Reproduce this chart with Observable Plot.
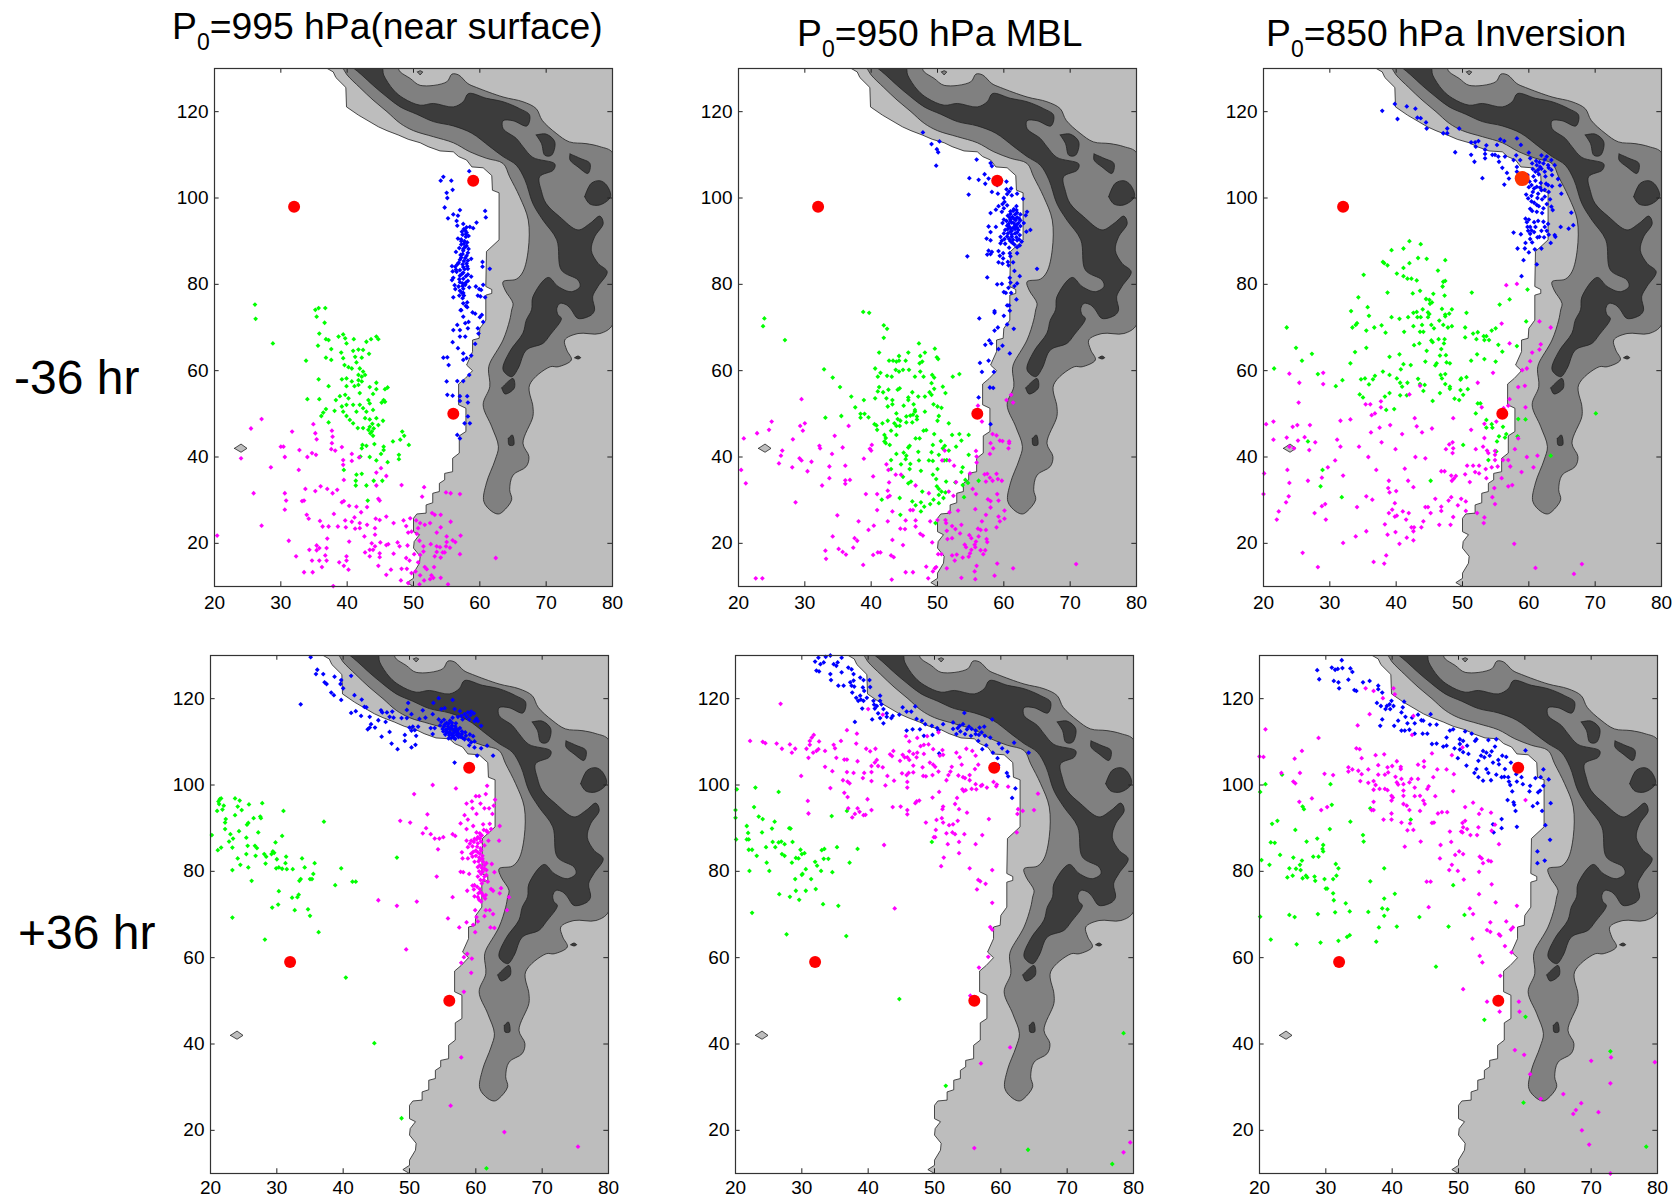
<!DOCTYPE html>
<html><head><meta charset="utf-8">
<script src="https://cdn.jsdelivr.net/npm/d3@7"></script>
<script src="https://cdn.jsdelivr.net/npm/@observablehq/plot@0.6"></script>
<style>
html,body{margin:0;padding:0;background:#fff}
#root{position:relative;width:1673px;height:1199px;overflow:hidden;font-family:"Liberation Sans",Arial,sans-serif;color:#000}
.t{position:absolute;white-space:nowrap;line-height:1}
.s{position:absolute}
.s svg{display:block}
sub{font-size:23px;line-height:0;vertical-align:baseline;position:relative;top:11px}
</style></head><body><div id="root"></div>
<script>
// ---- tick labels
const xTicks=[20,30,40,50,60,70,80];
const yTicks=[20,40,60,80,100,120];
// ---- terrain contours (lon,lat pairs, same on each panel)
const coast=[37,130,37.9,129.2,38.3,127.9,39.8,125.6,39.9,121.1,41.7,119.2,44.7,116.5,46,115.6,47.7,114.6,49.2,113.6,51,112.8,52.2,111.9,54,110.9,56,110.7,56.8,109.6,58,108.8,58.8,107.2,60.5,107,61.8,105.2,61.9,101.8,62.9,101.2,62.9,90.3,61,87.6,60.9,79.5,61.8,78.8,61.8,77.9,60.9,77.5,60.9,71.7,60,69.8,59.9,67.5,58.9,67.1,58.9,64.4,58,61.3,58.9,60,57.8,58.2,56.8,56.9,56.8,52.1,57.9,51.3,57.9,45.9,56.9,44.9,56.9,40.9,55.9,39.7,55.9,36.6,54.7,36.2,54.7,34.7,53.9,33.9,53.9,32,52.9,31.6,52.9,29.4,51.9,28.9,51.9,27,50.5,26.8,50,25.8,50,22.7,50.9,22,50.1,20.4,50,18.9,51,17,50.9,15.4,50,13.1,50,11.9,49,10.9,50,10,80,10,80,130,37,130];
const midBand=[39.4,130,40,128.5,41.9,125.6,43.9,122.7,46,120,48,117.3,50,115.6,53,114.2,56,112.8,58.5,110.7,61,109.2,63.5,108,64.5,104.9,66,100.3,67.3,94.9,67.3,88,66.5,82.9,65.5,81.2,63.5,80.6,63.8,78.7,65,75.6,64.8,74.05,64.5,71.7,63.5,67.1,61.5,61.7,61.3,60.2,61.5,56.3,60.5,52.1,61.8,47,62.8,42.4,62.3,39.3,61,34,60.6,29.7,61.8,27.4,62.8,26.8,63.5,27.4,64.8,30.1,64.5,32.4,65,35.8,67,37.8,67.4,40.1,66.5,43.2,68,49.4,68,51.7,67.5,56.7,70.6,60.9,71.8,60.9,73.8,62.5,73.1,64.8,72.8,67.1,74.8,68.6,78.1,68.6,80,70.6,80.3,80,80.3,100,80,110.5,78.1,111.9,76,112.6,73.5,113,71.5,115,69.4,118,68.5,120.7,66.5,122.3,63.5,123.4,59.5,125.6,58.2,126.5,56.8,128.5,55.8,128.7,55,126.9,51,126.1,49.5,127.7,48,129.2,47.5,130.3,43,131,39.4,130];
const darkBand=[40.8,130.3,45.2,130.3,45.5,128.5,47,125,48.5,123.1,51,121.5,53,121.9,56,121.1,57.5,122.3,58.3,124.2,61,123.1,63.5,122.3,66,120.7,67.5,119.2,67.1,116.7,65,117.9,63.5,117.9,63.5,116.1,65.5,113.8,66.5,111.9,68,109.4,71.3,107.9,71.1,106.5,69,104.9,69.3,101.5,70,98.7,72,95.7,74.8,92.6,76.6,94.1,78.1,95.8,78.6,94.1,77.3,91,76.8,87.9,77.8,84.9,79.2,82.9,77.8,79.5,77,77.1,77.3,74.1,76.8,72.9,74.8,72.1,73.8,74.1,73.1,75.2,72.1,75.6,71.6,74.4,71.8,72.9,72.3,72.1,70.6,68.3,69.5,66.3,67,64.8,65.8,60.6,64.8,58.6,63.5,60.2,64.5,64.4,66.5,68.7,67,71.7,67.8,74.1,68,77.1,70.3,81.6,71.8,79.5,73.8,78.3,75.1,79.5,74.8,81,72.3,83.3,71.6,90.3,69.5,94.9,68,98.7,66.8,104.2,65.5,107.6,63.5,109.6,61.5,111.9,58.8,115,56,116.7,53,117.7,50.5,119.4,48,121.1,46,123.4,43.9,126.1,42.2,128.5,40.8,130.3];
const darkIsles=[
 [68.5,114.6,70,114.8,71.3,113,70.8,109.9,69.8,109.9,69.3,112.6,68.5,114.6],
 [73.6,110.2,75.1,109.2,76.6,108,76.3,105.7,74.8,107.2,73.6,108.8,73.6,110.2],
 [75.8,100.3,76.8,103.4,78.1,104,79.1,103,79.7,100.3,78.1,98.4,76.6,98.6,75.8,100.3],
 [63.3,56,65,58.2,65.2,56,63.8,54.6,63.3,56],
 [64.3,44.3,64.9,45.1,65.1,42.8,64.4,42.8,64.3,44.3],
 [74.3,63,74.8,63.4,75.2,63,74.8,62.7,74.3,63]];
const midIsle=[50.6,129.2,51,129.5,51.4,129.2,51,128.5,50.6,129.2];
const lightIsle=[23,42,24,43,24.9,42,24,41.1,23,42];
// ---- red sites
const sitesMinus=[32,98,59,104,56,50];
const sitesMinus850=[32,98,56,50];
const bigSite850=[59,104.5];
const sitesPlus=[32,59,59,104,56,50];
// ---- panel 1: -36 hr, 995 hPa
const blue1=[58.4,106.2,54.5,104.9,54.1,104,55.7,104,55,101.2,55.1,100,55.9,101.9,54.7,97.8,57,97.2,60.8,97,60.9,95.5,56,96.2,55.2,95.3,56.7,95.9,59.5,94.3,56.5,94.7,57.5,94,56.6,93.6,58.5,93.3,59,93,57.8,92.5,58,92,57.4,91.5,57.9,91,56.7,90.6,57.2,90.4,57.7,90,58.1,89.7,57.2,89.2,57.8,88.7,58.3,88.2,57.5,87.8,56.4,87.5,57.4,87,58,86.6,57.2,86.2,58.7,85.9,57.6,85.4,56.8,85,58,84.8,55.8,84.2,56.3,84.1,57.5,84,58.2,83.6,57,83.3,55.9,83,56.5,82.9,57.5,82.7,58.2,82.3,60.4,85.2,60.4,84.1,61.5,83.6,57,82,58.7,81.8,56,81.5,55.8,81,57.5,81.3,58.2,80.8,57,80.5,56.2,79.8,57.8,79.9,58.4,79.3,59.4,79.5,59.9,78.9,60.5,79.9,60.2,78.7,56.3,78.9,57.5,79,57.3,78,57.6,77.4,56,77,57.4,76.8,59.7,77.4,60.1,77.2,60.8,77,57.5,75.6,57.9,75,57.2,74,58.1,74.7,58.9,73.5,59.3,73.2,60.3,72.9,60.5,71.3,60,72.4,57.1,74,57.5,72.5,56.6,70.6,56,69.4,57.8,71,58.3,71.3,57,69.4,58.2,69.8,59.8,68.6,59.7,69.8,57,67.9,57.8,67.9,55.9,66.6,59.3,66.2,56.7,65.2,57.5,64,55.1,63.1,54.5,63,55.3,61.3,57.5,62.5,58.7,63.5,58,62.9,58.4,59,55,57.5,56.6,57.6,57.5,57.6,55.1,54.4,55.9,54.2,57,54.1,58.1,54.1,57,53,58.2,52.6,58.2,49.4,57.7,47.8,58.5,47.8,56.6,45.1,57,44.3];
const blue1Dense=[57.6,92.8,58,93.2,57.3,92.2,57.9,91.6,58.3,91.2,57.2,90,57.6,89.4,58,88.9,56.9,88.4,57.5,88.2,58.2,87.3,57.1,86.8,57.8,86.1,58.2,85.5,57,85.7,57.4,84.6,58.1,84.2,56.6,84.6,57.7,83.5,56.4,83.4,57.3,82.4,57.9,81.9,56.9,81.2,57.4,80.2,57.9,80.4,56.8,79.5,57.4,79.6,57,78.5,57.5,78,56.9,77.4,58.1,75.8];
const green1=[26.1,75.3,26.2,72,35.2,74.1,35.7,74.5,36.7,74.5,35.4,72.5,28.8,66.3,36.6,71.1,35.8,68.6,38.7,67.9,39.4,68.4,39.7,67.5,39.9,66.3,36.8,67.3,37.2,67.1,41,67.3,42.9,66.7,43.6,67.3,44.4,67.9,44.7,67.3,35.6,65.8,37.6,65,40.9,64.6,41.7,64.9,42.4,64.8,39.1,64.2,43.3,63.9,36.8,63,37.6,62.5,33.8,62.3,39.4,62.9,41.2,63.2,42.2,63,41.4,61.9,39.6,61.3,40.2,60.8,40.7,60.5,41.9,60.5,42.4,59.8,41.7,59,42.2,58.6,42.7,59,39.2,58,39.9,58.2,35.7,58,41.7,57.8,42.2,57.5,40.7,57.5,44.4,57.2,37.2,56.4,39.9,56.4,41.1,56.4,41.7,56.7,43.4,56.2,45.7,55.7,46.1,56.1,44.4,55.7,34,53.4,35.8,53.4,38.3,53.2,38.9,54.1,39.7,54.4,40.2,53.6,41.9,54.8,43.2,53.2,43.9,54.6,45.5,53.2,45.2,52.6,45.7,52.8,39.2,51.7,39.9,52.1,40.9,52.1,41.9,52.1,43.4,52.4,39.4,50.5,42.4,51.3,36.8,51.1,38.1,50.7,36.4,50.3,36.1,49.5,39.9,49.5,41.4,50.5,42.9,50.5,43.9,50.9,40.4,48.6,40.9,47.8,42.7,49,43.4,48.7,44.4,49,45.4,48.4,37.2,48,41.6,46.7,42.4,46.7,43.4,47,44.7,47.4,43.7,45.9,43.9,44.9,43.2,46.3,43.5,45.5,44,46.6,43.8,47.7,48.3,45.9,48.6,44.9,48,44,46.9,43.6,49.3,42.8,42.3,42.8,42.9,42.6,44.1,43,42.2,42,45.5,42.4,45.5,41.6,45.1,40.7,47.8,40.5,47.8,39.5,42,40.1,43.4,40,44.4,39.2,46.1,38.8,39.5,37,41.4,35.9,42.2,36.1,44,34.5,45.3,34.5,41.3,34.5,41.3,33.4,42.9,33.4,43.1,29.9];
const magenta1=[20.4,21.8,27.1,48.8,25.5,46.6,31.7,45.9,34.9,47.6,35.2,45.5,35.4,44.1,37.7,46.1,37.8,44.7,37.7,43.2,30,42.4,30.4,42.4,32.8,41.6,24,39.7,30.6,40,34,40,34.7,40.9,35.3,40.5,37.6,41.8,38.2,41.5,39.2,42.3,40.7,40.7,39.4,39.3,39.4,38.2,40.7,39.1,41.8,39.9,28.5,37.6,32.7,37,44.4,36.4,45.1,37.4,45.9,35.6,39.5,34.7,44.4,33.4,48.2,33.5,51.6,33,25.9,31.6,30.6,31.6,33.7,32.6,35.2,32.1,36,33.2,37,32.6,37.8,31.6,38.5,32.4,51.3,30.8,54.9,31.8,55.6,31.6,57,31.4,30.8,29.9,33.2,29.8,33.5,29.9,39.2,29.5,39.5,29.8,44.7,30.3,44.9,29.9,30.6,27.8,40.3,28.7,41.4,28.5,43,28.4,42.1,27.2,38,26.8,33.9,26.6,34.2,25.7,35.9,25.2,39.7,25.3,40.7,25,41.1,26,41.9,24.7,44.3,25.7,44.9,25.4,45.9,26.2,47,24.7,48.5,25.3,49.5,25.8,50.4,25.3,52.8,27,53.2,26.6,54.1,26.6,52.5,24.7,55.6,25,51,24.7,51.7,24.3,27.1,24.1,36.3,23.9,37.2,23.9,38.6,23.9,39.8,23.7,41.9,23.5,41.2,23.4,43,24.3,44.2,23.5,48.9,24,50.7,23.5,54.1,23.7,53.5,22.5,49.2,22.5,49.7,22.7,50.5,22.2,37,21.1,42.6,21.6,44.2,22,55,21.6,57.1,21.8,31.2,20.6,40.3,20.4,43.7,20,45,20.2,46.2,19.8,45.9,19.6,47.6,20.2,47.9,19.3,49.1,19.5,50.9,20.6,55,20.3,55.9,20.7,56.3,20.3,52.6,19.8,53.5,19.3,54,19.1,51.5,19.3,55.5,19,54.9,19.3,35.4,19.5,35.8,18.9,34.3,18.5,35.4,18.4,36.9,18.9,44.2,19.3,43.9,18.5,43.4,18.5,42.7,17.9,44.9,17.7,47,17.6,53.5,18,54.4,17.9,54.7,17.9,51.5,18.1,57,17.5,50.1,17.5,51,17.3,43.4,17,44.9,16.8,32.3,17,36.7,17.2,53.2,17,54.1,16.7,48.9,16.6,49.4,16,39.9,17,39.9,16,34.7,16,35.8,16,36.9,16,38.8,15.6,62.4,16.6,50.7,15.6,51.7,14.5,52,14,39.5,14.8,36.2,14.5,44.7,14.8,48.2,14.1,49,14.1,50.3,13.5,49.7,13.1,40.2,13.9,46.6,13.9,53.1,14.5,33.5,13.3,34.8,13.3,45.9,12.7,51,12.6,48.1,11.4,52.7,12.6,53,12,52.5,11.7,54.1,12,51.6,11.4,49.2,10.8,55.2,10.5,37.9,10.1,50.9,10.5];
// ---- panel 2: -36 hr, 950 hPa
const blue2=[47.8,115.2,49.1,112.5,50.3,113.1,49.9,111.3,50.1,110.6,49.8,107.5,55.9,108.9,58,108.1,58.2,107.4,57.1,105.5,54.8,104.6,56.2,104.2,57.7,104.5,57.2,103.3,59.6,104.1,60.4,103.8,59,103,54.7,100.8,58.2,101.4,59.1,101,60.4,102,61.1,102.2,60.8,101.5,62,101,60.5,100.9,61.2,100.6,60,100,62.9,99.8,60.1,99.1,59.8,98.6,59.2,98.1,60.5,98.3,61.9,98.1,61.5,97.4,60,97.6,58.8,97.3,59.7,96.8,58,96.5,61,96.9,62,96.6,63.5,96.8,63.3,96,62.5,96.2,60.6,95.9,61.3,95.6,62,95.5,61,95,60,95,61.8,94.9,62.5,94.8,59.8,94.2,61.2,94.3,62.2,94.2,63,94.2,61.7,93.6,60.5,93.6,61,93,62,93.1,58.8,93.3,57.7,93.4,60.2,92.6,61.2,92.4,62.2,92.6,64,92.6,63.4,92.2,58,92.1,60.6,91.8,61.7,91.8,62.4,91.4,59.5,91,61.2,91,57.4,90.6,58,90.2,59.7,90.1,61,90,62,90.2,62.7,89.9,59.5,89.5,60.2,89.4,61.6,89.2,62.4,89,60.8,88.5,57.7,87.8,58.2,87.5,59.2,87.7,59.9,87.2,60.9,87.2,62,87.2,58,87,54.5,86.5,57.5,86.9,59.4,86.6,59.9,86,61,86.5,59.2,85.1,59.8,84.8,60.6,85.2,60.7,84.4,61.4,85.1,61.6,83.1,65,83.6,62.4,81.9,60.9,81.5,57.5,81.6,61,80.4,62,80.2,61.6,79.6,59,80,59.7,80.1,60.7,79.2,60.3,78,60,78.2,61.1,78,61.9,76.5,60.8,75.1,60.5,75.1,60.9,73.9,58.6,73.8,56.3,72.1,58.6,73.4,60,72.7,60.5,70.7,61.5,69.7,59.1,70,58.6,69.3,57.2,66,57.8,67,58.1,66.3,59.8,65.8,59.2,65,60.9,64,57.7,62.3,56.4,61.8,56.7,59.7,58.5,59.7,57.9,56.1,58.4,56,56.2,53.8,58,47.6];
const blue2Dense=[61.4,97,61.9,97.2,61,96.3,61.7,96.2,60.9,95.4,61.6,95.1,62.3,95.3,60.4,94.7,61,94.6,61.5,94.2,60.7,94,61.9,93.8,62.5,93.5,60.8,93.4,61.4,93.1,61.7,92.8,60.6,92.8,61,92.2,62,92,60,91.8,60.5,91.1,61.2,91.5,61.9,90.9,60.8,90.5,61.4,90.3,62.3,90.4,60.1,90.5,61.3,89.6,62,88.6];
const green2=[23.9,72.1,38.8,73.6,39.7,73.4,23.7,70.3,27,67.1,41.9,70.5,42.4,69.7,41.9,67.6,47.2,66.3,49.6,65.1,41.2,64.2,45.6,64.2,47.4,63.4,48.1,64.2,44.2,63.4,42.7,62.3,43.3,62.3,43.8,62.1,44.2,62.3,45.2,62.3,49.9,63.1,50.1,62.7,47.3,61.7,47.7,62.1,32.9,60.3,40.6,60.5,43.7,60.2,44.2,59.8,44.8,60.2,45.7,60.2,41.4,59.5,47.4,59.8,53.3,59.2,49.2,59,41,58.6,42.4,58.8,43.1,58.6,46.6,58.6,47.9,58.6,49.5,58.4,52.3,58.6,34.2,58.4,35.3,56.2,49.1,57.1,50.8,56.3,41.2,56.2,44.3,55.9,49.5,55.8,41,55.2,41.8,55,42.6,55.6,44,55.6,46.2,55,48.8,55,51.2,54.8,37,54,45.6,53.8,47.1,54,48.1,54,49.1,54.4,38.9,53.2,40.6,53.6,42.3,53.6,43.2,53.2,45.6,53.2,37.6,51.5,42.5,51.7,43.2,52.2,44.9,51.9,46.4,52.2,49.4,52.2,50,51.7,50.6,51.4,43.8,50.1,48.1,50.5,46.6,50.5,33.1,49.1,35.5,49.5,38.4,50,39,50,39.6,49.2,38.4,49.1,45.3,49.4,45.9,49.6,46.3,49.8,46.9,49.4,46.6,50.9,50.2,49.5,44,48.8,46.9,48.7,44.4,48.4,40.5,47.6,40.8,47.3,41.7,47.8,42.5,48.4,43.5,47.8,43.8,47.2,44.3,47.2,45.3,48,46.2,48,50,48.4,51.7,47.8,40.9,46.3,43,46.1,47.9,46.1,48.3,46.2,43.8,45.1,42,45.1,42.2,44.4,49.5,45.3,52.2,45.1,53.3,45.3,54.7,45.1,46.7,44.3,47.3,44.3,53.6,43.8,50.5,43.7,42,43.6,42.2,43.2,42.8,42.8,45.8,42.6,49.3,42.8,51.1,42.6,52.8,42.4,45.6,42.2,47.1,41.2,50.8,42,51.7,41.5,43.8,40.7,44.9,41,49.1,41.1,50.2,40.5,54.7,40.5,45.3,40.3,43,39.3,45.2,39.5,47.2,39.2,48.7,39.2,49.3,39.1,51,39.2,51.4,39.3,44.5,38.3,45.9,38.4,45.8,37.2,53.8,37.6,43,37.2,47.5,36.8,50,37.2,53.6,36.5,49.3,35.9,44.8,35.4,49.8,34.9,51.3,34.3,45.6,33.9,46,34.3,52.7,34.1,54.2,34.7,56.2,34.5,53.8,33.5,54.6,34,49.9,33.2,50.2,32.6,47.7,32,50.6,32,51.2,31.8,50.2,31.2,50.9,30.5,44.3,30.5,41.6,30.1,49.4,30.1,54,30.7,46.2,29.7,47.5,29.5,50.2,29.3,46.7,28.8,48,28.5,48.9,29.1,47.5,27.4,44.4,26.6,49.7,24.7];
const magenta2=[29.5,53.4,25,48.2,24.6,46.3,30,47.8,29.3,47.2,29.7,46.1,36.6,47.2,22.8,45.5,20.8,44.3,28.2,44.1,34.5,44.9,32.2,42.6,32.3,42,35.7,42.2,40.1,42.8,39.8,41.9,40,41.5,26.6,41.5,34.1,40.7,26.4,40.3,29.2,39.7,29.5,39.2,38.9,39.6,26.1,38.5,31,38.9,33.7,37.8,28.1,37.6,36.1,38,42.3,38.3,20.4,37,30.4,36.7,42.6,37,33.7,35.1,40.3,35.5,43.7,35.9,44.5,35.9,21.1,33.9,36.8,34.7,36.1,34.6,36.1,33.8,32.6,33.4,42.7,34.1,46.7,33.4,39.2,31.4,40.9,31.4,42.5,32.2,42.5,30.7,42.8,31,48.7,31.6,51.7,32,28.6,29.5,40.9,27.7,43.2,27.4,45.9,27.7,46.3,27.7,34.9,26.5,38.1,25.1,42.5,25.1,45.2,25.3,46.7,25.3,48.9,25.1,44.4,23.4,45.1,23.3,46.7,23.9,39.6,23.1,40.4,24.1,34.2,21.6,37.5,21.2,37.9,20.6,43.2,20.8,47.4,22.2,47.8,21.8,49.2,20.2,44.8,19.6,35.1,18.7,37.3,19,35.7,18,33.1,18.3,36.2,17.4,40.3,17.3,41,17.9,41.4,17.9,43,17.2,43.4,16.8,33.2,16.4,38.8,15,22.6,11.9,23.6,11.9,48.3,14.6,49.8,14.5,49.3,13.5,45.2,13.3,46.3,13.3,48.6,11.9,43.1,11.6,70.9,15.2,61.4,14.2,59,15.3,58.6,12.5,53.6,12,55.6,13.5,55.9,14.8,55.7,11.7,60.4,53.2,61.1,54.4,61.4,52.6,56.1,51.9,56.7,48.2,58.3,45.3,58.9,45,58,43.2,59.4,43.8,59.8,43.7,60.8,43.6,60.8,43.2,60.7,42,58.4,42,57.9,40.7,55.8,41.4,55.9,40.1,51.1,41.5,50.7,39.2,51.8,39.2,52.5,38,55.9,38.7,54.9,36.2,57.1,36,57.5,36.1,57.9,35.2,57.3,34.3,58.3,34.5,58.9,36.1,59.1,34.9,59.7,34.5,55.3,32.6,55.8,31.4,59,31.4,52.4,31,52.8,34.2,57.6,30.2,58,29.8,59.2,29.9,58,28.3,60.1,27.6,53.1,27.6,55.7,27.9,51.8,27.2,57.3,26.6,59.2,26.2,60.1,25.7,59.4,25.1,56.7,25.1,51.2,25.4,51.3,24.7,50,25.4,52.2,24,53.6,24.3,58.9,23.7,52.7,23.3,51.4,22.9,56.1,23.4,56.5,23.1,57.3,23.1,53.4,22.3,54.8,21.9,56.2,21.6,51.5,21,52.2,21.2,55.1,21.2,57.4,21,57.5,20.3,55.8,20.4,54.1,19.7,54.3,19.1,55.6,19.7,55.7,19.1,55.1,18.5,56.5,18.4,57.2,18.4,54.9,17.7,56.9,17.5,50.1,17.5,50.6,17.5,52.2,17.2,52.9,17.4,52.6,16,53.8,16.7,54.7,16.9,51.4,14.2,49.6,14.2];
// ---- panel 3: -36 hr, 850 hPa
const blue3=[37.9,120.2,39.8,121.8,40.2,118.3,41.6,121.2,42.9,120.7,43.2,118.6,43.7,118.5,44.5,117.5,44.6,116.1,47.7,116.1,49.5,116.1,47.1,115,47.7,115,48.9,110.6,51.3,112.9,51.9,112.9,52.4,113.2,52,111.9,51.3,110,51.8,108.4,53,104.6,53.6,112.2,53.4,111.2,53.4,110.2,53.4,109.2,54.5,110,54.9,110,55.4,109.6,55.2,112.3,55.7,113.6,56.3,113.2,58.2,113.8,58.8,112.3,55.5,108.4,56,107,56.7,105.8,57,104.5,56.3,103.1,56.4,109.6,57.7,108.8,58.1,109.9,58.7,108.8,60,110.5,60.2,109.2,61.9,109.9,62.7,109.6,63.4,108.8,63.9,107.6,62.2,108,61.7,107.2,61.2,107.6,61,106.1,61.4,106.5,62.4,106.1,63.4,106.5,64.4,104.4,64.7,102.9,64.9,101,58.2,106.1,58.2,107.2,60.4,103,61.2,102.6,61.9,101.8,62.9,103,60.6,101.4,61.4,101,62.4,100.3,63.2,99.7,59.9,99.9,60.4,99.2,61.2,98.4,62.2,97.6,63.4,98,63.6,97.2,60.2,97.5,66.4,96.6,66.7,93.7,64.8,93.3,66,92.9,63.9,91.4,64,91,63.3,89.6,59.7,94.4,60.2,93.3,61,93.3,59.8,93.3,60.4,92.5,62.9,94,57.7,92,58.8,91.6,60.2,91.7,60.2,90.5,61.3,90.9,61.9,92.4,62.3,90.9,60.5,89.7,59.5,89.6,58.3,88.3,59.4,88.3,60,87.4,60.9,88.1,61.9,88.3,59.2,85.6,61.2,84.6,58.9,81.9];
const blue3Dense=[60.5,108,61.1,108.6,61.6,108.3,62.4,108.9,62.9,107.6,63,107,61.9,106.8,60.6,106.7,59.8,105.3,60.7,105,61.5,105.5,62.5,105,63.5,105.3,60.1,103.8,61,104,61.8,103.5,62.6,103.3,63.5,102.7,60,102.5,60.8,102.2,61.7,102.4,62.4,101.9,63,101.4,59.6,100.8,60.4,100.5,61.3,100,62,99.7,62.7,98.6,60.8,98.9,61.5,98.1,60.5,97,61.2,96.8,62,96.5,59.5,95.2,60,95,60.8,94.4,61.4,94.7,62.2,94.5,59.9,92.4,60.8,92.1,61.6,91,62.7,92.4,63,91.5,62.4,93.3];
const green3=[42,90,43.7,89.3,41.1,88.3,39.3,87.9,43.3,86.1,44.6,85.9,47.4,85.6,38,85.2,38.2,84.9,38.7,84.4,42,84.9,41.1,83.8,40.1,82.5,41.1,81.9,41.7,81.3,42.3,81.3,43.1,80.9,46.3,83.2,47.1,80.6,47.4,80.8,47,79.5,35.1,82.2,38.7,78.1,42.5,77.9,43.6,78.5,45.6,77.8,47.3,77.4,51.4,78.1,59.8,78.8,34.3,77,44.5,76.6,45,76.4,45.4,75.8,45.1,75.5,55.6,75.3,57.1,76.5,35.7,74.7,33.2,73.8,46.9,74.3,48.4,74.2,50.6,73.4,44,74.2,42.6,73.4,43.1,73.6,44.8,73.5,45,73.1,47.4,73,48,73.2,35.9,72.7,39.3,72.4,40.5,72,41.8,72.4,43.2,72.4,43.7,72.4,44.8,72.4,47.4,72.6,59.6,71.4,23.5,70,33.9,70.6,34.1,71,33.4,70,35.5,69.3,36.7,70,37.8,70.5,38.4,68.8,41.2,69,42.6,70.3,43.9,70.6,43.6,69,44.1,69,45.3,70.6,45.7,69.8,46.5,71.6,47.1,70.6,47.8,70,48.4,70.3,50.4,70,51.6,68.6,52.3,68.9,50.4,67.7,52.1,67.3,53.3,67.1,53.6,68,54.4,69.3,55,69.8,53.2,68,54,67.1,24.9,65.3,27.3,63.9,35.5,65.3,33.8,64.3,42.7,65.9,43.5,66.3,45.3,67,45.5,66.6,46.4,67.3,47.3,67.3,47.2,66.3,46.8,65,44.6,64.6,40.5,63.8,46.6,63.5,47.5,63.6,52.2,63.8,55.4,66,56,64.4,58.2,65.7,25.8,62.3,21.6,60.5,33.1,61.7,39,63.2,41.1,61.5,42.2,61.3,44.4,62.1,46.1,61.7,45.9,61.2,47.6,61.9,48.1,61.7,51.3,62.3,53.3,62.7,55,62.1,40.7,60.3,28.2,59.2,38,59.8,39,59,40.1,58.2,36.8,58.8,36.5,58,35.3,58.2,34.7,58,31.9,57.8,46.7,59,47.4,59.2,46.9,58.2,43.3,58.1,43.6,56.9,44.3,56.7,40.6,57.2,40.9,56.3,41.7,57.2,35.9,56.8,30.9,56.4,47.4,56.9,48.1,56.3,48.1,55.8,49.7,57.9,49.8,58.2,50.6,58.5,49.7,55.5,50.8,55.7,34.5,54.5,35,53.8,38.3,54,39,54.8,40.6,54.3,41.6,54.3,44.1,55.3,46.6,54.8,48.8,53.5,49.5,53.2,50.1,54.4,45.5,53,38.5,50.9,39.7,51.1,52.3,52.4,52.7,52.4,52,50.1,53.6,48.6,54.4,47.6,53.6,46.8,54.5,46.8,56.1,47,55.5,44.8,56.6,45.3,56.4,44.5,58.4,48.8,59.5,48.7,58.3,44.8,55.2,43.6,50.1,42.8,26.7,43.6,55.1,41.3,53.9,39.3,63.3,40.3,70.1,50.1,28.9,37,28.6,33.2,31.8,30.7,45.2,34.5];
const magenta3=[56.6,79.8,58.2,80.1,55.9,70.9,61.6,71.4,63.3,70,57.1,66.3,61.8,66.1,61.6,64.9,60.5,64.2,60.2,62.2,59.7,60.5,59,60.1,54.6,59.5,23.9,59.3,29,59.5,25.4,57.2,29,56.9,52.3,57.2,43.6,56.5,58.4,56.2,59.4,56.5,42,54.5,25.3,52.6,37.7,52.9,35.4,52.2,36.1,52.2,37.7,51.5,52.9,51.5,57.1,53.4,56.9,51.9,59.5,51.5,36.8,50.1,36.3,49.7,31.6,48.4,33.1,48.7,42.8,49,48.6,49,21.5,48.2,20.4,47.6,25.1,47.4,24.4,47,27,47.4,39.1,47.4,43.1,47.1,45.4,46.6,37.5,46.8,36.2,45.7,43.9,45.7,40.9,45.3,51.3,46.3,53.3,47.7,55.1,48.2,56.2,51.3,21.5,44,23.5,44.5,25.2,43.8,26.2,44.6,27.8,43.4,31.1,44,37.8,43.4,53.3,44.4,58.4,44.3,23.9,42.4,24.6,42,31.6,42.4,34.4,42.4,26.9,41.6,39.9,41.8,48,42.9,48.5,43.4,48.6,42,47.5,41.8,52,41.8,53.1,42.4,53.7,41.5,53.9,40.9,54.9,41.4,54.9,40.5,48.5,40.9,57.9,41.8,42.9,40,44.4,39.7,35.8,40,30.8,39.2,29.7,37.6,54.9,39.3,56.1,39.3,56.9,39.3,59.7,40,61.3,40.3,41.3,37.3,50.7,38,51.6,38,52.5,38,54.4,37.6,55.3,37.8,57.2,37.8,60.7,37.6,20.1,36.2,23.6,37,37,37,46.8,36.7,47.3,36.7,51.9,36.5,52.5,36.2,53.5,37.2,58.9,36.5,28.8,35.2,32,35.7,48.3,35.7,48.7,35,49,35.6,48.4,34.5,50.4,36,53.6,35.1,55.9,35.1,26.7,34.5,23.9,34,38.9,34.5,41.8,34.5,51.1,34.2,42.6,33,38.8,32.8,56.9,33.2,57.5,33.5,54.8,32.8,40,32.1,39,31.8,20,31.4,23.8,30.9,35.5,30.9,36.4,30.1,45.9,30.3,48.3,30.7,47.9,29.9,49.8,30.3,50.5,29.7,54.5,30.7,23.4,29.5,28.8,28.6,29.3,29.1,34.1,28.4,39.8,29.3,44.4,28.4,44.8,28.4,46.8,28.5,46.8,27.5,49.3,28.8,54.9,29.1,22.3,27.4,27.7,27,39.4,27.8,38.9,27,39.8,26.2,40.1,26.4,41,27.4,41.9,27,45.2,27,50.5,27.5,52.2,27,48.6,26.1,22,25.5,29.4,25.5,41.5,25.5,53.3,26,53.2,24.7,44.1,25.1,38.3,24.4,46.5,24.3,48.2,24.3,42.3,23.7,42.7,23.7,43.8,23.7,35.5,22.8,39.9,22.6,42.6,22.8,38.7,22,33.9,21.6,41.6,21.3,42.6,20.7,32,20.1,40.5,19.9,57.8,19.9,25.9,17.8,36.6,15.7,38.2,15.3,38.5,17.2,28.2,14.5,61,14.3,68,15.2,66.8,12.9];
// ---- panel 4: +36 hr, 995 hPa
const blue4=[35.1,129.6,36.1,126.7,35.9,125.7,37,125.7,38.7,125.1,39.7,124.3,41.2,125.3,37.2,123.8,37.5,123.4,39.6,123.4,40,122.4,38.2,121.4,38.6,120.8,41.7,120.8,39.7,119.7,42.8,119.8,33.6,118.7,43.2,118.1,43.5,118,49.8,119,49.6,117.4,53.6,119,54.4,120.1,56.5,119.7,54.8,117.6,55.3,117.8,41.2,116.7,41.9,117.1,42.7,116,44,115.8,45.7,117.3,45.9,116.8,46.6,116.8,47.4,117,47,115.8,48.8,115.5,49.6,115.5,50.3,116.4,52,117.3,45.3,115,44.2,114.1,46.4,114.6,47.6,115.6,43.7,112.9,44,113.3,44.8,113.3,47,112.3,45.8,111.2,49.3,111.6,51,111.4,49.3,110.2,47.3,109.6,48.2,108.3,50.3,108.7,50.9,109.3,50,113.3,50.5,113.5,51.3,113.5,50.8,112.7,50.3,112.6,51.5,115.3,52.4,115.6,53.5,116.4,53.2,113.2,53.8,113.2,53.5,111.8,54.4,115.2,54.8,114.6,55.2,115.1,55.6,114.4,56.1,114.9,54.6,113.8,55.2,113.6,55.8,113.6,56.4,113.8,57,114.3,55,113,55.5,112.8,56,113,56.5,112.9,57,113.1,57.6,113.2,55.6,112.2,56.1,112.3,56.7,112.1,57.2,112.3,57.9,112.4,58.4,112.2,56,111.5,56.6,111.4,57.1,111.6,57.7,111.2,58.5,111.4,59.1,111.7,59.6,111.3,56.9,110.7,58.3,110.6,58.9,110.5,59.3,109.9,59.8,110.1,56.8,117.6,57.6,117.1,58.3,116.4,58.8,116.8,59.3,117,59,115.2,59.8,114.8,60.3,114.8,60.8,113.7,59.7,116.6,60.1,115.4,56.8,105.2,60.8,108.5,61.7,109.1,60.2,106.8,62.6,106.8,59,109.2,59.8,108.7];
const blue4Dense=[55.3,114,55.9,114.2,56.4,114.4,56.9,113.6,55.1,112.4,55.7,112.9,56.3,113.3,56.8,112.6,57.3,112.8,55.9,112,56.4,111.8,56.9,112.4,57.4,111.9,57.9,111.8,56.3,110.9,56.7,110.9,57.4,111.1,58,110.9,55.4,111.7,55.9,110.8,56.5,115.6,57.3,115.8,57.8,116,58,115.2,58.6,115.8,59.2,116.2];
const green4=[20.2,88.4,21.4,96.7,21.6,96.9,21.2,96.2,21.3,95.6,21,94,22,95.2,21.8,94.3,23.7,96.9,24.4,96.4,25.8,95.5,24.1,95,24.7,94.2,27.8,95.8,31,94,37.1,91.5,23.7,93,22.3,92.1,22.2,91.3,26.5,92.3,27.5,92.7,27.6,92.3,25.7,91.2,25.5,90.8,22.2,89.8,24.3,89.3,27.2,89,23,88.6,25.4,87.8,23.4,87.6,22.8,86.9,30.8,88.2,29.8,86.7,25.6,85.9,26.7,85.9,27,85.4,21.1,84.9,21.6,85.5,23.3,85.5,25.4,84,26.8,83.6,28.1,84,28.4,83.4,29.4,84.6,29.6,84.3,29.2,84,31.4,83.4,24.1,83,33.8,83,30,82.8,31.3,81.9,35.7,81.9,48.1,83.2,24.5,81.5,28.3,81.8,25.7,80.9,23.3,80.3,29.9,80.7,30.3,80.9,30.8,80.6,31.5,80.5,32.4,80.5,34.2,80.9,39.7,80.7,35.5,79.4,33.6,78.2,33.4,77.8,35,78.2,35.3,78.2,26.2,77.8,41.4,77.6,41.9,77.6,38.8,76.8,30.3,75.4,32.3,73.9,33.1,74,33.3,74.6,30.2,72.3,29.3,71.6,32.7,71,34.7,71.2,35,69.7,23.3,69.3,36.3,65.9,28.2,64.2,40.4,55.4,44.7,40.2,48.8,22.8,61.6,11.2];
const magenta4=[53.5,100,57,99.2,61.7,99.8,50.7,97.9,60,97.4,60.5,97.4,61.5,97.9,62.9,96.6,58.6,95.7,59.4,96.2,60.7,95.7,61.3,94.6,62,94.6,62.7,95.2,59.5,94.6,60.1,93.3,58.3,93,62.5,93.3,52.7,93.2,48.6,91.7,50.1,91.3,58.8,92,57.7,91.1,61.1,90.9,62.1,91,63.6,90.5,52.5,90,58.6,89.8,59.6,90.5,62.3,89.8,61.6,89.4,61.8,89,52,88.8,53.2,88.6,56.5,88.6,56.9,88.2,53.8,87.6,54.5,87.6,55.1,87.9,60.8,88.3,60.3,87.9,59.8,87.5,59.3,87.1,58.6,87.1,63.5,87.1,61.9,87.1,61.3,86,54.3,85.1,57.9,84.4,58.8,85.6,59.3,84.1,60.3,84.4,60.8,84.8,58.8,83,59.8,82.2,60.6,82.7,61.1,82.2,61.6,81.9,62.4,81.7,58,83,60.3,81,61.3,80.6,60.8,79.4,61.6,79.1,62.8,79.8,57.7,79.9,58.1,79.8,54.1,78.8,59,79.4,60.3,78.8,61.8,77.6,59.5,76.7,59.8,76.8,58.7,75.5,60.6,75.9,62.3,75.9,62.6,75.5,63.8,76.1,63.6,74.9,65,74,56.5,74,59.8,74.2,60.3,74,61.1,74.3,61.4,73.7,60.8,73,45.3,73.3,48.1,72,51.1,73,59.9,71,61.5,71,62.1,71,62.6,70.1,64.7,71,61.3,69.6,60.1,69.4,60.3,68.4,55.8,69.1,58.6,68.2,59.6,67.6,57.5,67,62.2,67,62.8,66.9,59.9,65.9,49.5,61.9,58.7,60.9,58.2,60.1,57.8,58.8,59.4,59.8,59.3,56.5,58.2,52.1,57.8,36.9,56.2,25.7,64.3,19.6,75.4,16.2];
const magenta4Dense=[60.1,89,60.6,88.8,61.2,89.6,60.9,88.3,60.1,87.4,60.6,87.6,59.7,86.8,60.3,86.5,59.1,86.4,60.8,86.9,59.5,85.8,60.2,85.7,60.7,85.3,60,84.8,59.6,84.5,60.6,84.1,61,83.6,60,83.6,60.5,83.2,59.5,83.4,60.4,82.3,61,82.9,61.3,81.4,60.6,81.4,60.9,80.8,61.6,80.3,60.5,80,61,79.9,61.3,78.8,60.7,78,61.2,78,60.9,77.2,60.2,76.4,59.7,75.8,60.7,75.2,60.4,74.9,60.9,74.9,61.5,74.5,60.5,73.4];
// ---- panel 5: +36 hr, 950 hPa
const blue5=[32.5,129.5,33.6,129.7,34.3,130,36,129.5,32,128.6,32.8,128,33.3,128.4,34.8,128,35.4,128.4,35.2,127.6,32.2,126.5,32.6,126.3,34.3,125.7,36,126.1,37,127.2,37.5,126.8,37.8,125.7,38.8,124.9,34.4,124.3,35.5,123,36.3,123,37.3,123.8,37.5,123,37.6,121.4,39.3,124.3,40.2,124.3,40.3,122.7,39.4,121.8,38.8,120.7,38.5,119.5,39.3,119.5,41.8,120.7,40.8,119.5,41.8,119.5,39.1,117.7,41.3,118.3,42,118.7,41,117.7,42.3,117.6,38,114.6,40.6,115.2,41.8,115.5,42.3,114.3,42.8,115.8,43.5,115.5,43.7,116,44.7,116.3,45.2,118,45.8,117,46.5,117,47.1,118.2,45.8,112.6,46.7,112.9,47.8,112.9,47.3,115.3,48.1,114.9,48.6,114.1,49.6,113.7,48.4,111.4,49.7,111.6,50.4,113.2,51.3,114.1,50.6,112.6,52.8,114.5,52.8,113,53.3,111.8,53.8,113.7,54.3,114.1,54.9,112.9,54.6,111.8,55.2,113.5,55.5,111.4,56.2,111.8,56.6,110.2,56.8,113.3,57.5,113.5,58.4,111,57.2,108.3,57.8,109.2,58.8,107.5,59.7,109.6,60.2,108.5,61,107.7,62,109.8,64.2,107.5,54.5,116.7,58.7,115.2,50.7,107.3,59.5,106.2,59.6,104.6,60.9,102.8,61.1,102,62.2,99.2,61.7,97,53.5,113.2,53.9,112.4,55.6,113,56.2,112.6,57.1,112.2,57.6,111.4,56.7,111.6,38.2,120.2,38.9,119.8,39.8,120.2,39.2,122.6,37.9,122.8,37.8,124.2,42.8,116.6,40.9,118.6,41.5,116.6];
const green5=[20.2,99,23,99.4,26.5,98.4,22.8,94.9,20,94.2,20,92.4,23.5,92.7,24.1,92.1,34.5,92.8,36.8,94,25.9,91.5,21.7,90.5,25.5,89.9,28.1,90,28.3,89.9,21.9,88.9,24,89,20.1,87.4,21.7,87.4,22,87.4,25.6,86.8,26.5,86.7,26.9,86.9,27.4,86.3,28.6,86.8,49.6,86.8,22,85,22.5,85,24.6,85.6,26,85.6,29.8,85,33,84.9,33.4,85.2,35.3,85.6,38.4,85.2,23.2,83.6,27,84,27.4,83.6,30,84,30.4,84.2,29.1,83.1,29.5,83,33.3,82.9,34,82.9,32,82.2,24.7,82,28.5,82,37.2,82,32.3,81.3,22.1,80.1,25.1,80.1,30.6,80.5,32.9,80.1,34.6,79.8,30.1,79.4,30,79.2,29,78.2,31.4,78.2,29.1,75.5,30.6,75.5,32.1,75.9,26.6,74.7,28.2,74.1,29.6,73.4,33.2,72.4,35.5,72,22.5,70.4,27.7,65.4,36.7,65,44.7,50.4,51.7,30.3,78.5,42.5,64.1,15.5,76.8,12.2];
const magenta5=[26.8,118.8,22.2,110.2,24.1,110,24.5,109.7,26.2,109.6,27,108.4,28.2,109.4,29,108.4,28.5,107.5,30.7,108.4,31.2,110.2,31.5,111,31.8,111.6,31.2,109.3,31,106.3,31.7,107.5,32.2,107.9,32.6,110.1,32.5,108.3,33.5,107.9,34.8,109.3,35,108.5,35.9,110.2,36.8,112.7,38.3,111.9,38.2,109.6,39.7,108.4,40.3,107.8,41.1,108.4,35.2,106.3,36.4,105.9,36.8,105.9,38.4,105.5,41.3,105.8,41,105.2,33.5,104.2,40.5,104.4,41.5,104.4,42.2,104.1,34.6,103.2,36.8,103,37.8,102.8,39.4,102.8,40.5,103,29.9,102.1,36.2,101.1,36.9,100.8,37.2,100.4,39.2,101.6,40.5,100.9,42.9,102.1,43.9,101,34.3,99.3,42.6,99.9,45.9,100.7,45.9,99.4,36.4,98.2,36.9,97.2,30.9,96.3,39.9,96.7,31,93.4,37,94.6,38,93.3,37.6,92.5,38.4,94.6,38.7,93.8,39.3,93,39.6,93.1,40.5,94.2,43.7,94.9,44.9,95,45.9,94.2,45.9,93.2,47.1,95.8,47.3,96.2,47.7,96.4,49.7,97.1,50.7,98.4,43.3,107.1,43.8,107.9,43.6,106.7,45.2,107,45.5,106.4,45.9,106.4,46.8,107.2,47.4,107.5,48.4,107.2,45.7,111.3,47.4,110.9,46.2,110.1,48.9,111.3,48.4,109.3,49.1,109.4,47.9,109,46.2,107.8,47.3,106.4,49.8,108.3,51.2,108.1,50.8,106.8,53.3,107.5,54.8,108.4,55.7,107.9,56.2,106.8,53.8,106.4,51.3,107,44.8,105.6,46.2,105.8,46.8,104.5,48.2,104.1,49.3,105.2,49.8,104.7,50.1,104.2,46.8,102.9,45.1,102.7,45.8,102.3,46.1,102.8,48.3,102.1,48.7,102,49.7,102.3,50.6,103.1,52.6,104.2,52.4,103.1,54.1,104.7,56.6,104.7,56.1,103.7,55.3,102.3,53.6,102.2,52.1,102.3,54.3,101.8,54.6,101.6,51.8,101.1,55.3,101.1,54.2,99,54.7,98.8,54.4,98.6,55.6,99.1,56.2,100.2,56.3,99,57,99.8,57.2,100,57.9,99.4,58.9,100.7,59.4,100.1,59.3,99.7,61.1,99.6,65.6,98,53.4,97,53.1,95.6,51.3,95,51.2,94.4,53.7,94.4,54.9,93.6,62.6,94.4,63.3,94,65,94.2,62.5,93.3,58.2,92.1,51.1,92.3,50.3,91.9,51.3,91.3,48.7,91.3,52.2,90.7,52.8,90.9,53.5,91.7,50.2,89.6,51.8,88.8,52.7,89,53.1,88.6,54.5,88.6,57.2,88.4,62.4,89,50.1,87.9,49.9,87.9,52,86.3,53.7,86.8,56.2,86.3,42.4,86.1,53.7,84.2,51.4,83.2,51,81.2,55.3,80.7,58.7,80.3,56.6,78,56.9,77.7,57.7,77.1,56.4,75.8,58.7,72.7,44,71.4,58.4,67.1,58.7,66.5,40,117.6,42.2,116.3,50.6,112.2,58.1,60.2,56.7,57.7,55.4,51.2,56.2,50.7,61.4,39.2,57,35.5,56,15.9,78.5,14.9,79.5,17.2];
// ---- panel 6: +36 hr, 850 hPa
const blue6=[32.4,128.9,28.7,126.6,29,124.5,30.9,127.2,31.4,126.7,31.8,126.9,32.5,127.1,33.7,127,34,126.2,31.2,124.1,31.9,123.8,32,122.4,33.4,124.4,35.6,123.8,36.6,124.1,34.3,122,34.6,121.8,37.9,123,37.9,122.2,38.5,121.4,37.7,119,38.3,118.3,39,117.6,39.2,118.3,39.6,118.7,39.9,119.5,40.2,118.3,39.7,117.6,41.8,119.3,41.6,118,41.4,116.8,38.5,115.2,38.2,113.7,42,115.8,43,115.6,43.9,116.3,44.4,115,44.7,114.9,45.8,116.4,40.9,114.9,40.3,113.7,42.3,114.3,43.4,114.3,45.7,114,46.7,114,41.4,112.6,41.9,112.6,42.6,112.8,43.4,111.9,44.6,111.9,45.3,111.9,48.7,112.6,49.2,112.9,51,112.4,52,111.9,48.2,111,50.2,110.6,50.7,110.2,52.5,110.2,52.7,110.6,54.5,110.4,55.7,110.6,46,109.5,46.7,109.6,47.7,108.9,48.2,109.1,50.2,109.5,51.3,109.1,55.5,108.9,49.4,108.5,50.2,108.2,50.7,107.6,51.5,107.2,53.7,107.9,54.2,107.5,55,107.8,60.1,108,53.4,106.8,53.9,106.4,54.7,106.8,49.9,106.2,51.2,104.5,53,105.6,56,105.8,56.6,106.8,57.2,106.5,55.2,105.2,56.1,104.8,57.9,105.2,57,103.7,52.7,103.7,52.4,102.8,54.2,103.7,54.5,102.8,53,101.8,53.7,101,55.7,102.4,56.5,101.8,56.9,101.9,57.5,101.8,58.7,102.5,59.5,101.8,54.9,101.1,57.6,100.8,58.8,100.8,59.7,100.2,60.8,99.8,57.8,100,61.6,101.6,62.4,101.8,63.6,101.3,62.8,103.6,62.8,99.8,62.3,98.7,62,98.3,60.7,98.5,58.1,98.5,57.4,96.5,58.3,96,58.4,95.4,58.6,94,61.2,95.1,61.9,95.8,62.6,94,63.9,95.8,56.5,92.1,55.2,90.9,56.5,90,55.3,89,58.8,90.3,63.1,90.7,63.8,87.3,61.9,84.6,63,82.5,61.9,81.9];
const green6=[20.9,100.2,20.1,98.4,23.4,102.4,30.7,100.2,30.9,95.4,26.5,95,26.7,94.4,36.7,94.6,33.7,91.5,30.6,89.8,42.8,92,22.7,91.7,21.9,91,25.4,89.6,35.6,88.4,35.7,86.9,28.7,87.6,21.7,86.7,22.3,86.6,27.1,86.9,29.6,86.1,29.5,85.2,29.6,84.6,23.1,83.8,25.1,83.2,28.1,83.4,28.9,83.4,20.3,82.6,21.5,81.5,26.4,82.5,26.1,81.5,31.5,81.7,31.9,80.7,24.5,80.7,25.5,80.6,26.2,80.3,24.2,78.6,25,79,26.5,78.4,27,79,27.2,78.6,28.3,78.8,28.4,77.8,29.8,78.2,31.1,78.2,31.6,79,38.8,80.7,36.7,77.7,49.2,76.8,30,76,30.2,76,31.1,74.9,31.2,73.3,40.4,74.8,38.8,73.7,33,72.6,33.6,70.7,31.4,70.5,28.8,70.1,24.5,69.9,25.3,69.4,20.1,69.5,36.4,70.6,38.5,71.4,39.3,71.2,38.8,69.7,44.1,69.4,50.9,69.9,38,67,40.7,67.2,48.5,67.2,21.7,64.2,25.6,63.1,29.2,63.5,31.9,63.9,33.2,64.8,33.6,65.2,37.6,63.7,46.6,57.9,53.9,45.6,60.1,46.3,72.9,38.3,59.8,26.4,78.3,16.2];
const magenta6=[36,122.4,37.2,121.8,40.2,122.4,40.4,121,38.6,120.1,20.9,112.9,36.6,116.4,43.2,116,34.8,113.8,43,111.6,28.9,110.9,20,106.6,20.6,106.5,26.4,107.9,25.3,106.1,34.6,108.5,35.1,108.3,35.4,106.2,37.5,106.9,38.8,107.1,46,107.3,50.6,108.7,49,106.9,33.4,104.1,34,103.6,33.4,103.1,34.9,103.3,35.4,102.5,36.4,103.6,37.9,104.6,39.3,104.1,40,104.4,40.7,105.5,41.3,104.2,41.3,103.7,43.9,104.7,44.8,105.5,44.8,104.2,46.8,103.6,48.2,103.6,23.3,102.8,26.1,102.8,29.8,102.6,31.1,102.3,25.1,100.8,25.4,100.4,35.2,100.9,36.4,100.5,37.2,100.9,37.9,102.4,38.9,102.4,39.4,102.9,40.5,101.9,41.4,101.4,42.9,101.4,43.9,101.4,46.2,101.8,49.3,102.5,37.2,98.9,37.5,100,38.1,99.1,38.9,99.1,39.3,98.8,40.7,100.6,40.9,100.1,41.7,100.2,42.6,100.6,41.7,98.7,43.4,99.4,45.5,99.7,45.3,99.1,49.2,98.6,39.9,97.5,40.1,97.1,41.7,97.5,43.4,97.4,44.2,97.5,46.5,97.4,27.9,96.9,26,96.1,30.2,94.9,29.3,94.2,37.2,96.1,37.2,94.2,36.9,94.2,39.9,96.4,41.7,95.6,42.2,95.2,42.6,94.2,44.7,96.4,44.9,95.6,44.2,94,46.9,93.4,47.5,93.7,48.3,93.7,51,94.9,52.2,95.9,53.5,94.4,53.1,93.3,54.9,93.6,60.1,96.5,38.7,92,39.9,92,39.9,93.4,41.4,91.3,42.7,91.1,46,91.2,46.3,91.3,51,91.7,50.6,91.2,53,90.2,50.7,90.2,51.3,89.8,55.5,90.8,42.3,89.5,43.2,89.6,48.7,89.2,50.4,89.2,50.6,89,51.8,88.4,52.8,88.4,55,89.4,44.3,86.9,48.9,86.8,47.3,86.1,56.1,86.3,41.9,85.7,50.1,84.6,50.7,84,49.5,83.8,53.2,83.4,53.5,83,47.2,83,53.7,81.9,54.5,82.5,54.9,82.3,49,81.5,48.6,80.3,49.9,80.1,53.1,79.9,45.2,77.6,45.8,77.6,50.8,78.1,55,77,53.1,74.7,45.5,71.7,55.6,72.8,58.8,72,51.7,71.4,52.2,70.1,54.8,68.2,57.2,68.4,58.2,67,57.9,66.5,54.3,66.4,54.8,66,56.1,65.4,56.3,65.1,52.1,64.4,57,62.7,58,61.2,53.2,60.4,53.6,58.9,56.3,55.8,50.7,52.7,54.3,49.8,59.1,49.8,59.2,47.5,56.2,47.5,58.5,38.6,59.9,37.5,60.8,33,70,36.1,73,36.9,79.6,35.8,72.9,30.9,65.8,28.4,62.4,27.3,68.5,26.3,71.1,24.2,67.7,24.7,67.3,23.8,68.6,20,69.7,16.7,72.9,10];

const pts=a=>d3.range(0,a.length,2).map(i=>({x:a[i],y:a[i+1]}));
const BLUE="#0000ff",GREEN="#00ff00",MAG="#ff00ff",RED="#ff0000";
const poly=(a,fill,curve)=>Plot.line(pts(a),{x:"x",y:"y",fill,stroke:"#222",strokeWidth:0.8,curve:curve||"linear",clip:true});
const scatter=(a,fill)=>Plot.dot(pts(a),{x:"x",y:"y",fill,r:2.15,symbol:"diamond2",stroke:"none"});

const ML=52,MR=14,MT=6,MB=36,W=398,H=518;
function panel(left,top,pad,b,g,m,sites,big){
  const marks=[
    poly(coast,"#bdbdbd"),
    poly(midBand,"#808080","catmull-rom"),
    poly(darkBand,"#3c3c3c","catmull-rom"),
    ...darkIsles.map(a=>poly(a,"#3c3c3c","catmull-rom")),
    poly(midIsle,"#808080"),
    poly(lightIsle,"#bdbdbd"),
    scatter(b,BLUE),scatter(g,GREEN),scatter(m,MAG),
    Plot.dot(pts(sites),{x:"x",y:"y",r:6,fill:RED,stroke:"none"})
  ];
  if(big)marks.push(Plot.dot(pts(big),{x:"x",y:"y",r:7.5,fill:"#ff3300",stroke:"none"}));
  marks.push(
    Plot.ruleX(xTicks,{y1:10,y2:11.1,stroke:"#222"}),
    Plot.ruleX(xTicks,{y1:130,y2:128.9,stroke:"#222"}),
    Plot.ruleY(yTicks,{x1:20,x2:20.7,stroke:"#222"}),
    Plot.ruleY(yTicks,{x1:80,x2:79.3,stroke:"#222"}),
    Plot.frame({stroke:"#333",strokeWidth:1.2}),
    Plot.axisX(xTicks,{anchor:"bottom",tickSize:0,tickPadding:pad,fontSize:19,label:null,color:"#000"}),
    Plot.axisY(yTicks,{anchor:"left",tickSize:0,tickPadding:6,fontSize:19,label:null,color:"#000"})
  );
  const svg=Plot.plot({
    width:W+ML+MR,height:H+MT+MB,
    marginLeft:ML,marginRight:MR,marginTop:MT,marginBottom:MB,
    style:{fontFamily:'"Liberation Sans",Arial,sans-serif',fontSize:"19px",background:"transparent",overflow:"visible",maxWidth:"none"},
    x:{domain:[20,80],label:null},y:{domain:[10,130],label:null},
    marks
  });
  const d=document.createElement("div");d.className="s";
  d.style.left=(left-ML)+"px";d.style.top=(top-MT)+"px";d.style.width=(W+ML+MR)+"px";
  d.appendChild(svg);root.appendChild(d);
}
const root=document.getElementById("root");
panel(213.8,67.8,9,blue1.concat(blue1Dense),green1,magenta1,sitesMinus);
panel(737.7,67.8,9,blue2.concat(blue2Dense),green2,magenta2,sitesMinus);
panel(1263.3,67.8,9,blue3.concat(blue3Dense),green3,magenta3,sitesMinus850,bigSite850);
panel(210.2,654.5,7,blue4.concat(blue4Dense),green4,magenta4.concat(magenta4Dense),sitesPlus);
panel(735.3,654.5,7,blue5,green5,magenta5,sitesPlus);
panel(1259.3,654.5,7,blue6,green6,magenta6,sitesPlus);

function label(html,left,top,size){
  const d=document.createElement("div");d.className="t";
  d.style.left=left+"px";d.style.top=top+"px";d.style.fontSize=size+"px";
  d.innerHTML=html;root.appendChild(d);
}
label("P<sub>0</sub>=995 hPa(near surface)",172,8,37.3);
label("P<sub>0</sub>=950 hPa MBL",797,15,37.3);
label("P<sub>0</sub>=850 hPa Inversion",1266,15,37.3);
label("-36 hr",14,354,48);
label("+36 hr",18,909,48);
</script></body></html>
